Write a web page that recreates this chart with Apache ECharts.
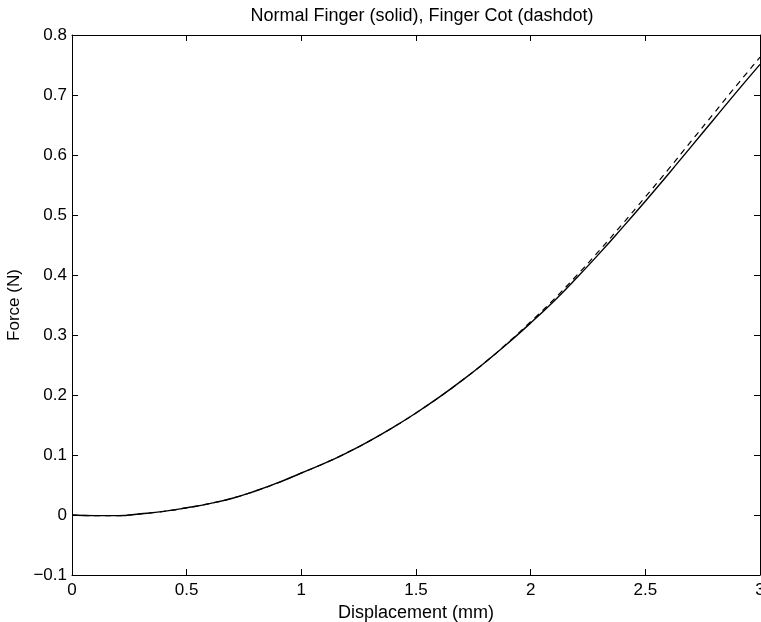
<!DOCTYPE html>
<html>
<head>
<meta charset="utf-8">
<script src="https://cdn.jsdelivr.net/npm/echarts@6/dist/echarts.min.js"></script>
<style>
html,body{margin:0;padding:0;background:#fff;overflow:hidden;}
#chart{width:761px;height:622px;}
</style>
</head>
<body>
<div id="chart"></div>
<script>
var titleText = 'Normal Finger (solid), Finger Cot (dashdot)';
var xName = 'Displacement (mm)';
var yName = 'Force (N)';
var displacement = [0,0.1,0.2,0.3,0.4,0.5,0.6,0.7,0.8,0.9,1.0,1.1,1.2,1.3,1.4,1.5,1.6,1.7,1.8,1.9,2.0,2.1,2.2,2.3,2.4,2.5,2.6,2.7,2.8,2.9,3.0];
var normalFinger = [0,-0.001,-0.001,0.002,0.006,0.012,0.019,0.028,0.040,0.054,0.070,0.086,0.104,0.124,0.146,0.170,0.196,0.224,0.254,0.286,0.320,0.356,0.395,0.436,0.479,0.523,0.568,0.614,0.660,0.706,0.751];
var fingerCot = [0,-0.001,-0.001,0.002,0.006,0.012,0.019,0.028,0.040,0.054,0.070,0.086,0.104,0.124,0.146,0.170,0.196,0.224,0.254,0.287,0.322,0.359,0.399,0.441,0.485,0.530,0.576,0.623,0.670,0.717,0.763];

function pairs(xs, ys){ return xs.map(function(x,i){ return [x, ys[i]]; }); }
function fmt(v){ var r = Math.round(v*10)/10; return r < 0 ? '\u2212' + String(-r) : String(r); }
var font = 'Liberation Sans, Arial, sans-serif';
var chart = echarts.init(document.getElementById('chart'), null, {renderer:'canvas', width:761, height:622});
var axisCommon = {
  axisLine:{show:true, onZero:false, lineStyle:{color:'#000', width:1}},
  axisTick:{show:true, inside:true, length:6, lineStyle:{color:'#000', width:1}},
  splitLine:{show:false}
};
chart.setOption({
  backgroundColor:'#fff',
  animation:false,
  title:{text:titleText, left:417, top:2, textAlign:'center',
    textStyle:{fontFamily:font, fontSize:18, fontWeight:'normal', color:'#000'}},
  grid:{left:72, right:1, top:35, bottom:47, containLabel:false, outerBoundsMode:'none'},
  xAxis:[
    Object.assign({type:'value', position:'bottom', min:0, max:3, interval:0.5,
      name:xName, nameLocation:'middle', nameGap:24,
      nameTextStyle:{fontFamily:font, fontSize:18, color:'#000'},
      axisLabel:{color:'#000', fontFamily:font, fontSize:17, margin:7, formatter:fmt}}, axisCommon),
    Object.assign({type:'value', position:'top', min:0, max:3, interval:0.5,
      axisLabel:{show:false}}, axisCommon)
  ],
  yAxis:[
    Object.assign({type:'value', position:'left', min:-0.1, max:0.8, interval:0.1,
      name:yName, nameLocation:'middle', nameGap:44, nameRotate:90,
      nameTextStyle:{fontFamily:font, fontSize:17, color:'#000'},
      axisLabel:{color:'#000', fontFamily:font, fontSize:17, margin:5, formatter:fmt}}, axisCommon),
    Object.assign({type:'value', position:'right', min:-0.1, max:0.8, interval:0.1,
      axisLabel:{show:false}}, axisCommon)
  ],
  series:[
    {type:'line', name:'Normal Finger', data:pairs(displacement, normalFinger), smooth:true,
      showSymbol:false, lineStyle:{color:'#000', width:1.4, type:'solid'}},
    {type:'line', name:'Finger Cot', data:pairs(displacement, fingerCot), smooth:true,
      showSymbol:false, lineStyle:{color:'#000', width:1.2, type:[6,5]}}
  ]
});
</script>
</body>
</html>
